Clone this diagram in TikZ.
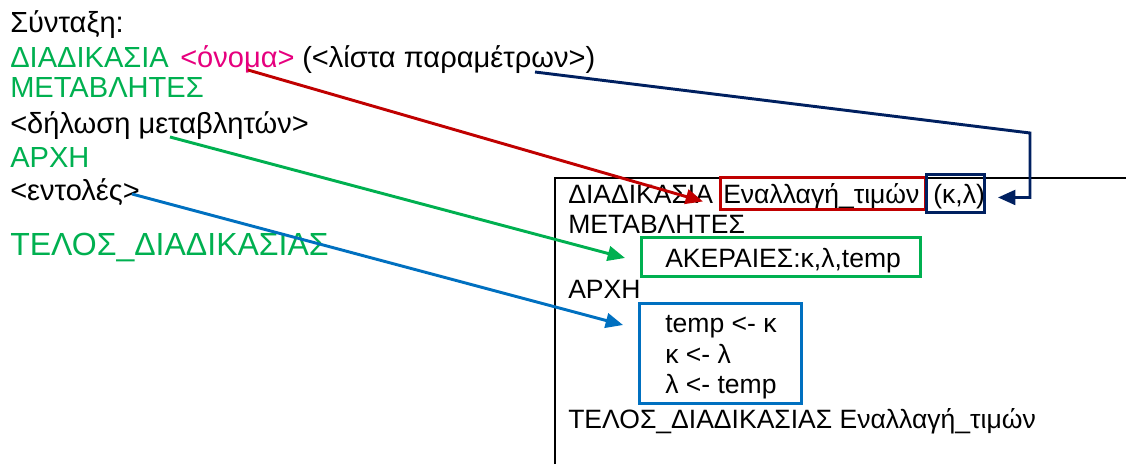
\documentclass[tikz,border=0pt]{standalone}
\usepackage{fontspec}
\setmainfont{Liberation Sans}
\usetikzlibrary{arrows.meta,calc}
\definecolor{kwgreen}{RGB}{0,176,80}
\definecolor{namepink}{RGB}{230,0,126}
\definecolor{arrred}{RGB}{192,0,0}
\definecolor{arrnavy}{RGB}{0,32,96}
\definecolor{arrblue}{RGB}{0,112,192}
\begin{document}
\begin{tikzpicture}[x=0.75pt,y=-0.75pt,
  txt/.style={anchor=base west,inner sep=0pt,font=\fontsize{21.8}{24}\selectfont},
  big/.style={txt,font=\fontsize{24}{28}\selectfont},
  ex/.style={txt,font=\fontsize{19.9}{22}\selectfont},
  hl/.style={draw=#1,line width=2.2pt,inner sep=0pt,anchor=north west},
  conn/.style={draw=#1,line width=2.2pt,-{Triangle[length=13pt,width=11pt]}}]
\useasboundingbox (0,0) rectangle (1126,464);
% syntax template
\node[txt] (title) at (10,32) {Σύνταξη:};
\node[txt,kwgreen] (proc) at (10,67) {ΔΙΑΔΙΚΑΣΙΑ};
\node[txt,namepink] (onoma) at (180,67) {<όνομα>};
\node[txt] (params) at (302,67) {(<λίστα παραμέτρων>)};
\node[txt,kwgreen] (vars) at (10,97) {ΜΕΤΑΒΛΗΤΕΣ};
\node[txt] (decl) at (10,133) {<δήλωση μεταβλητών>};
\node[txt,kwgreen] (begin) at (10,167) {ΑΡΧΗ};
\node[txt] (cmds) at (10,200) {<εντολές>};
\node[big,kwgreen] (end) at (10,255) {ΤΕΛΟΣ\_ΔΙΑΔΙΚΑΣΙΑΣ};
% example frame
\draw[line width=1.2pt] (555,464) -- (555,178) -- (1126,178);
\node[ex] (eproc) at (568,203) {ΔΙΑΔΙΚΑΣΙΑ};
\node[ex] (ename) at (723,203) {Εναλλαγή\_τιμών};
\node[ex] (eargs) at (933,203) {(κ,λ)};
\node[ex] (evars) at (568,233) {ΜΕΤΑΒΛΗΤΕΣ};
\node[ex] (edecl) at (665,267) {ΑΚΕΡΑΙΕΣ:κ,λ,temp};
\node[ex] (ebegin) at (568,298) {ΑΡΧΗ};
\node[ex] (ec1) at (665,332) {temp <- κ};
\node[ex] (ec2) at (665,363) {κ <- λ};
\node[ex] (ec3) at (665,393) {λ <- temp};
\node[ex] (eend) at (568,428) {ΤΕΛΟΣ\_ΔΙΑΔΙΚΑΣΙΑΣ Εναλλαγή\_τιμών};
% highlight boxes
\node[hl=arrred,minimum width=205*0.75pt,minimum height=32*0.75pt] (bname) at (719,176) {};
\node[hl=arrnavy,minimum width=58*0.75pt,minimum height=38*0.75pt] (bargs) at (925,173) {};
\node[hl=kwgreen,minimum width=279*0.75pt,minimum height=39*0.75pt] (bdecl) at (640,236) {};
\node[hl=arrblue,minimum width=162*0.75pt,minimum height=100*0.75pt] (bcmds) at (638,302) {};
% connectors
\coordinate (nstart) at (248,70);
\coordinate (pstart) at (535,72);
\coordinate (pbend) at (1030,133);
\draw[conn=arrred] (nstart) -- ($(bname.west)+(-16,8)$);
\draw[conn=arrnavy] (pstart) -- (pbend) |- ($(bargs.east)+(12,4)$);
\draw[conn=kwgreen] (170,137) -- ($(bdecl.west)+(-15,1)$);
\draw[conn=arrblue] (132,194) -- ($(bcmds.north west)+(-15,23)$);
\end{tikzpicture}
\end{document}
